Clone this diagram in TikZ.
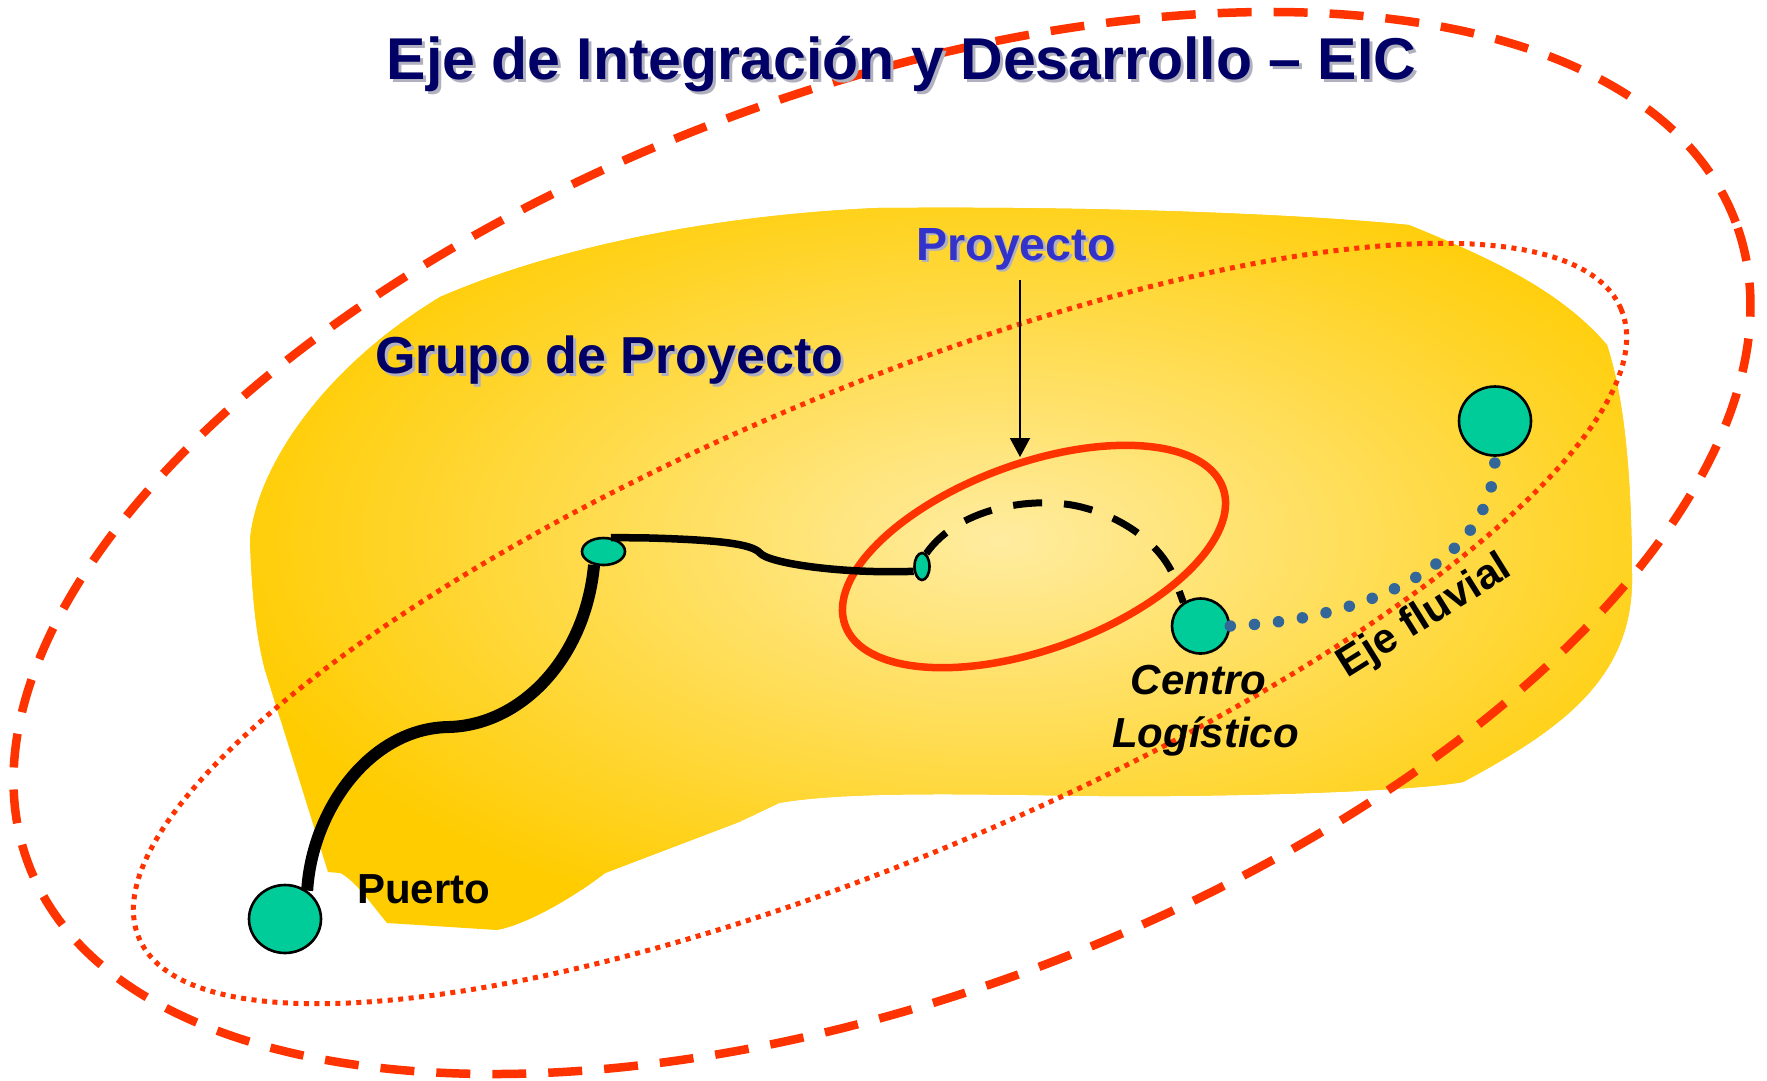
\documentclass[tikz,border=0pt]{standalone}
\usepackage{fontspec}
\setmainfont{Liberation Sans}
\usetikzlibrary{shapes.geometric,arrows.meta}
\newcommand{\myfs}[1]{\fontsize{#1}{#1}\selectfont}
\definecolor{redo}{RGB}{255,51,0}
\definecolor{navy}{RGB}{0,0,102}
\definecolor{pblue}{RGB}{51,51,204}
\definecolor{greenn}{RGB}{0,204,153}
\definecolor{dotblue}{RGB}{51,102,153}
\definecolor{gold}{RGB}{255,204,0}
\definecolor{pale}{RGB}{255,236,160}
\definecolor{shadowgray}{RGB}{176,176,190}
\begin{document}
\begin{tikzpicture}[x=1pt,y=-1pt,
  gnode/.style={draw=black, line width=2.6pt, fill=greenn, ellipse, inner sep=0pt},
  lbl/.style={inner sep=0pt, anchor=base, font=\bfseries},
  bigdash/.style={draw=redo, line width=8.5pt, dash pattern=on 34pt off 22pt},
  reddot/.style={draw=redo, line width=5pt, dash pattern=on 5pt off 5.5pt},
  projring/.style={draw=redo, line width=7.5pt},
  thickline/.style={draw=black, line width=12pt},
  thinline/.style={draw=black, line width=7.5pt},
  dashline/.style={draw=black, line width=7pt, dash pattern=on 29pt off 22pt},
  bluedots/.style={draw=dotblue, line width=11.5pt, line cap=round, dash pattern=on 0pt off 24.2pt},
  pointer/.style={draw=black, line width=2pt, -{Triangle[length=19pt,width=20pt]}}
]
\useasboundingbox (0,0) rectangle (1767,1080);
\fill[white] (0,0) rectangle (1767,1080);

% yellow region
\begin{scope}
\clip (250,540) .. controls (256,470) and (320,370) .. (440,297)
 .. controls (560,245) and (720,215) .. (877,208)
 .. controls (1100,206) and (1300,214) .. (1409,225)
 .. controls (1490,258) and (1560,290) .. (1607,345)
 .. controls (1625,400) and (1632,480) .. (1632,583)
 .. controls (1630,680) and (1560,730) .. (1463,782)
 .. controls (1400,793) and (1200,797) .. (1100,796)
 .. controls (1000,795) and (850,790) .. (779,803)
 -- (739,822) -- (605,873)
 .. controls (570,900) and (525,925) .. (497,930)
 -- (387,923)
 .. controls (372,905) and (355,880) .. (340,873)
 -- (328,872) -- (265,670)
 .. controls (257,640) and (252,600) .. (250,540) -- cycle;
\fill[gold] (0,0) rectangle (1767,1080);
\shade[inner color=pale, outer color=gold] (1000,540) ellipse [x radius=800pt, y radius=410pt];
\end{scope}

% ellipses
\path[reddot, rotate around={23:(880,623.5)}] (880,623.5) ellipse [x radius=805pt, y radius=232pt];
\path[bigdash, rotate around={20.6:(882,543)}] (882,543) ellipse [x radius=912pt, y radius=452pt];
\path[projring, rotate around={20:(1034,556.5)}] (1034,556.5) ellipse [x radius=201pt, y radius=93pt];

% nodes
\node[gnode, minimum width=72pt, minimum height=68pt] (puerto) at (285,919) {};
\node[gnode, minimum width=43pt, minimum height=27pt] (n1) at (603.5,551.5) {};
\node[gnode, minimum width=15pt, minimum height=27pt] (n2) at (922,566.5) {};
\node[gnode, minimum width=57pt, minimum height=55pt] (centro) at (1200.5,626) {};
\node[gnode, minimum width=72pt, minimum height=69pt] (fluv) at (1495,421) {};

% connectors
\draw[thickline] (n1.-125) .. controls (585,660) and (520,725) .. (449,727)
  .. controls (370,728) and (312,810) .. (puerto.52);
\draw[thinline] (n1.62) -- (650,538) .. controls (720,540) and (752,544) .. (760,553)
  .. controls (768,563) and (840,574) .. (n2.-150);
\draw[dashline] (n2.72) .. controls (960,505) and (1040,495) .. (1085,508)
  .. controls (1130,520) and (1165,550) .. (1175,580) -- (centro.126);
\draw[bluedots] (centro.0) .. controls (1370,620) and (1495,560) .. (fluv.-90);

% arrow
\coordinate (arrS) at (1020,280);
\coordinate (arrE) at (1020,457);
\draw[pointer] (arrS) -- (arrE);

% texts
\node[lbl, text=shadowgray] (titleS) at (904.5,82.5) {\myfs{59}Eje de Integración y Desarrollo – EIC};
\node[lbl, text=navy] (title) at (901.5,79.5) {\myfs{59}Eje de Integración y Desarrollo – EIC};
\node[lbl, text=shadowgray] (proyS) at (1018.5,262.5) {\myfs{46.5}Proyecto};
\node[lbl, text=pblue] (proy) at (1016,260) {\myfs{46.5}Proyecto};
\node[lbl, anchor=base west, text=shadowgray] (grupoS) at (378,376.5) {\myfs{52}Grupo de Proyecto};
\node[lbl, anchor=base west, text=navy] (grupo) at (375,373.5) {\myfs{52}Grupo de Proyecto};
\node[lbl, anchor=base west] (puertoL) at (357,903.5) {\myfs{42}Puerto};
\node[lbl, font=\bfseries\itshape] (centroL) at (1198.5,694) {\myfs{42}Centro};
\node[lbl, font=\bfseries\itshape] (logL) at (1205.5,747) {\myfs{42}Logístico};
\node[inner sep=0pt, font=\bfseries, rotate=32] (fluvL) at (1425,617) {\myfs{42}Eje fluvial};
\end{tikzpicture}
\end{document}
